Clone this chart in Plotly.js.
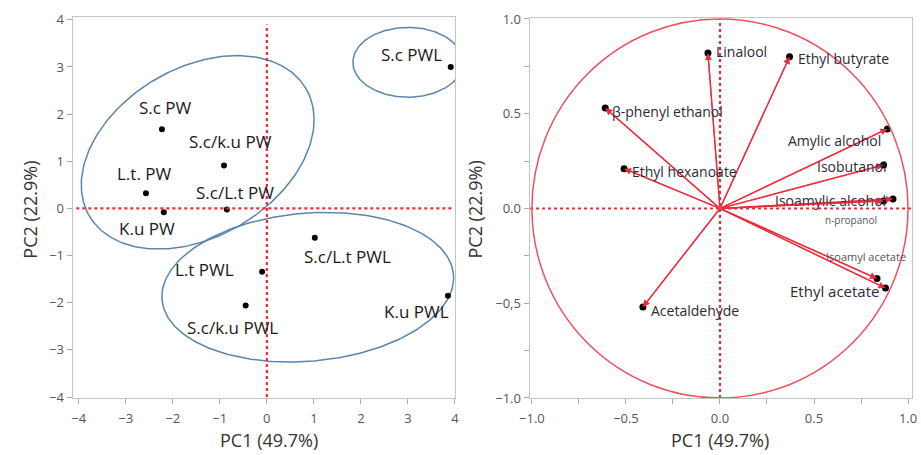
<!DOCTYPE html>
<html>
<head>
<meta charset="utf-8">
<script src="https://cdn.plot.ly/plotly-3.0.1.min.js"></script>
<style>html,body{margin:0;padding:0;background:#fff;}#chart{width:921px;height:455px;}</style>
</head>
<body>
<div id="chart"></div>
<script>
// ---- Scores plot (left) ----
const sampleNames = ["S.c PWL","S.c PW","S.c/k.u PW","L.t. PW","K.u PW","S.c/L.t PW","S.c/L.t PWL","L.t PWL","S.c/k.u PWL","K.u PWL"];
const samplePC1 = [3.91, -2.23, -0.91, -2.57, -2.19, -0.85, 1.02, -0.10, -0.45, 3.85];
const samplePC2 = [3.00, 1.68, 0.91, 0.32, -0.08, -0.02, -0.62, -1.34, -2.06, -1.85];

// group ellipses: centre, semi-axes (data units) and rotation (deg)
const ellCX = [3.0, -1.47, 0.87];
const ellCY = [3.1, 1.19, -1.67];
const ellA = [1.17, 2.67, 3.11];
const ellB = [0.74, 1.79, 1.57];
const ellAngle = [0, 30.4, 4.9];

// ---- Loadings plot (right) ----
const varNames = ["Linalool","Ethyl butyrate","β-phenyl ethanol","Ethyl hexanoate","Amylic alcohol","Isobutanol","Isoamylic alcohol","n-propanol","Isoamyl acetate","Ethyl acetate","Acetaldehyde"];
const loadPC1 = [-0.064, 0.37, -0.61, -0.51, 0.89, 0.87, 0.92, 0.87, 0.835, 0.88, -0.41];
const loadPC2 = [0.82, 0.80, 0.53, 0.21, 0.42, 0.23, 0.05, 0.04, -0.37, -0.42, -0.52];

const leftTicks = [-4,-3,-2,-1,0,1,2,3,4];
const rightXTickVals = [-1,-0.5,0,0.5,1];
const rightXTickText = ["−1.0","−0.5","0.0","0.5","1.0"];
const rightYTickVals = [-1,-0.5,0,0.5,1];
const rightYTickText = ["−1.0","−0,5","0.0","0.5","1.0"];

// label styling (pixel offsets)
const sampleLabelShift = [[-39,12],[4,22],[6,24],[-1,20],[-17,-16],[8,17],[33,-19],[-58,2],[-13,-22],[-31,-16]];
const varLabelStyle = [
  {anchor:"left",dx:6,dy:2,size:14},
  {anchor:"left",dx:6,dy:-2,size:14},
  {anchor:"left",dx:5,dy:-3,size:14},
  {anchor:"left",dx:6,dy:-3,size:14},
  {anchor:"right",dx:-4,dy:-12,size:14},
  {anchor:"right",dx:4,dy:-2,size:14},
  {anchor:"right",dx:-5,dy:-2,size:14},
  {anchor:"right",dx:-5,dy:-19,size:10},
  {anchor:"right",dx:31,dy:22,size:11},
  {anchor:"right",dx:-4,dy:-3,size:15},
  {anchor:"left",dx:6,dy:-3,size:14}
];

const FONT = "Open Sans, Noto Sans, sans-serif";
const RED = "#ee2a3a";
const PINK = "#f0505e";
const BLUE = "#5a86ad";

const traces = [];
// ellipses
for (let k = 0; k < ellCX.length; k++) {
  const xs = [], ys = [];
  const th = ellAngle[k] * Math.PI / 180;
  for (let i = 0; i <= 240; i++) {
    const t = 2 * Math.PI * i / 240;
    xs.push(ellCX[k] + ellA[k]*Math.cos(th)*Math.cos(t) - ellB[k]*Math.sin(th)*Math.sin(t));
    ys.push(ellCY[k] + ellA[k]*Math.sin(th)*Math.cos(t) + ellB[k]*Math.cos(th)*Math.sin(t));
  }
  traces.push({x: xs, y: ys, mode: "lines", line: {color: BLUE, width: 1.5}, hoverinfo: "skip", xaxis: "x", yaxis: "y", showlegend: false});
}
// sample points
traces.push({x: samplePC1, y: samplePC2, mode: "markers", marker: {color: "#000", size: 6}, xaxis: "x", yaxis: "y", showlegend: false});
// vector lines on right
for (let i = 0; i < varNames.length; i++) {
  traces.push({x: [0, loadPC1[i]], y: [0, loadPC2[i]], mode: "lines", line: {color: PINK, width: 1.2}, xaxis: "x2", yaxis: "y2", showlegend: false, hoverinfo: "skip"});
}
traces.push({x: loadPC1, y: loadPC2, mode: "markers", marker: {color: "#000", size: 7}, xaxis: "x2", yaxis: "y2", showlegend: false});

const annotations = [];
for (let i = 0; i < sampleNames.length; i++) {
  annotations.push({x: samplePC1[i], y: samplePC2[i], xref: "x", yref: "y", text: sampleNames[i], showarrow: false,
    xanchor: "center", yanchor: "middle", xshift: sampleLabelShift[i][0], yshift: sampleLabelShift[i][1],
    font: {family: FONT, size: 17, color: "#1a1a1a"}});
}
for (let i = 0; i < varNames.length; i++) {
  annotations.push({x: loadPC1[i], y: loadPC2[i], xref: "x2", yref: "y2", ax: 0, ay: 0, axref: "x2", ayref: "y2",
    text: "", showarrow: true, arrowhead: 2, arrowsize: 1, arrowwidth: 1.4, arrowcolor: RED});
  const s = varLabelStyle[i];
  annotations.push({x: loadPC1[i], y: loadPC2[i], xref: "x2", yref: "y2", text: varNames[i], showarrow: false,
    xanchor: s.anchor, yanchor: "middle", xshift: s.dx, yshift: s.dy,
    font: {family: FONT, size: s.size, color: s.size < 12 ? "#555" : "#2a2a3a"}});
}
// axis titles
const titleFont = {family: FONT, size: 18, color: "#333"};
annotations.push({xref: "paper", yref: "paper", x: 0.2925, y: 0.032, text: "PC1 (49.7%)", showarrow: false, font: titleFont, xanchor: "center", yanchor: "middle"});
annotations.push({xref: "paper", yref: "paper", x: 0.033, y: 0.54, text: "PC2 (22.9%)", showarrow: false, font: titleFont, textangle: -90, xanchor: "center", yanchor: "middle"});
annotations.push({xref: "paper", yref: "paper", x: 0.782, y: 0.032, text: "PC1 (49.7%)", showarrow: false, font: titleFont, xanchor: "center", yanchor: "middle"});
annotations.push({xref: "paper", yref: "paper", x: 0.516, y: 0.54, text: "PC2 (22.9%)", showarrow: false, font: titleFont, textangle: -90, xanchor: "center", yanchor: "middle"});

const shapes = [
  {type: "line", xref: "x", yref: "y", x0: 0, x1: 0, y0: -4.0, y1: 3.9, line: {color: RED, width: 2.2, dash: "dot"}},
  {type: "line", xref: "x", yref: "y", x0: -4.05, x1: 3.95, y0: 0, y1: 0, line: {color: RED, width: 2.2, dash: "dot"}},
  {type: "line", xref: "x2", yref: "y2", x0: 0, x1: 0, y0: -1.0, y1: 1.0, line: {color: RED, width: 2.2, dash: "dot"}},
  {type: "line", xref: "x2", yref: "y2", x0: -1.01, x1: 1.02, y0: 0, y1: 0, line: {color: RED, width: 2.2, dash: "dot"}},
  {type: "circle", xref: "x2", yref: "y2", x0: -1, x1: 1, y0: -1, y1: 1, line: {color: PINK, width: 1.5}}
];

const axBase = {showgrid: false, zeroline: false, showline: true, mirror: true, linecolor: "#c4c4c4", linewidth: 1.5,
  ticks: "outside", ticklen: 5, tickcolor: "#aaa", tickfont: {family: FONT, size: 13, color: "#555"}};

const layout = {
  width: 921, height: 455,
  margin: {l: 0, r: 0, t: 0, b: 0},
  paper_bgcolor: "#fff", plot_bgcolor: "#fff",
  showlegend: false,
  xaxis: Object.assign({}, axBase, {domain: [0.0793, 0.494], range: [-4.12, 4.0], tickvals: leftTicks, anchor: "y", ticklabelstandoff: 3}),
  yaxis: Object.assign({}, axBase, {domain: [0.1253, 0.9626], range: [-4.02, 4.06], tickvals: leftTicks, anchor: "x"}),
  xaxis2: Object.assign({}, axBase, {domain: [0.5755, 0.990], range: [-1.01, 1.02], tickvals: rightXTickVals, ticktext: rightXTickText, anchor: "y2", ticklabelstandoff: 3,
    minor: {tickvals: [-0.75,-0.25,0.25,0.75], ticks: "outside", ticklen: 5, tickcolor: "#aaa"}}),
  yaxis2: Object.assign({}, axBase, {domain: [0.1253, 0.9604], range: [-1.0, 1.005], tickvals: rightYTickVals, ticktext: rightYTickText, anchor: "x2",
    minor: {tickvals: [-0.75,-0.25,0.25,0.75], ticks: "outside", ticklen: 5, tickcolor: "#aaa"}}),
  shapes: shapes,
  annotations: annotations
};

Plotly.newPlot("chart", traces, layout, {staticPlot: true, displayModeBar: false});
</script>
</body>
</html>
